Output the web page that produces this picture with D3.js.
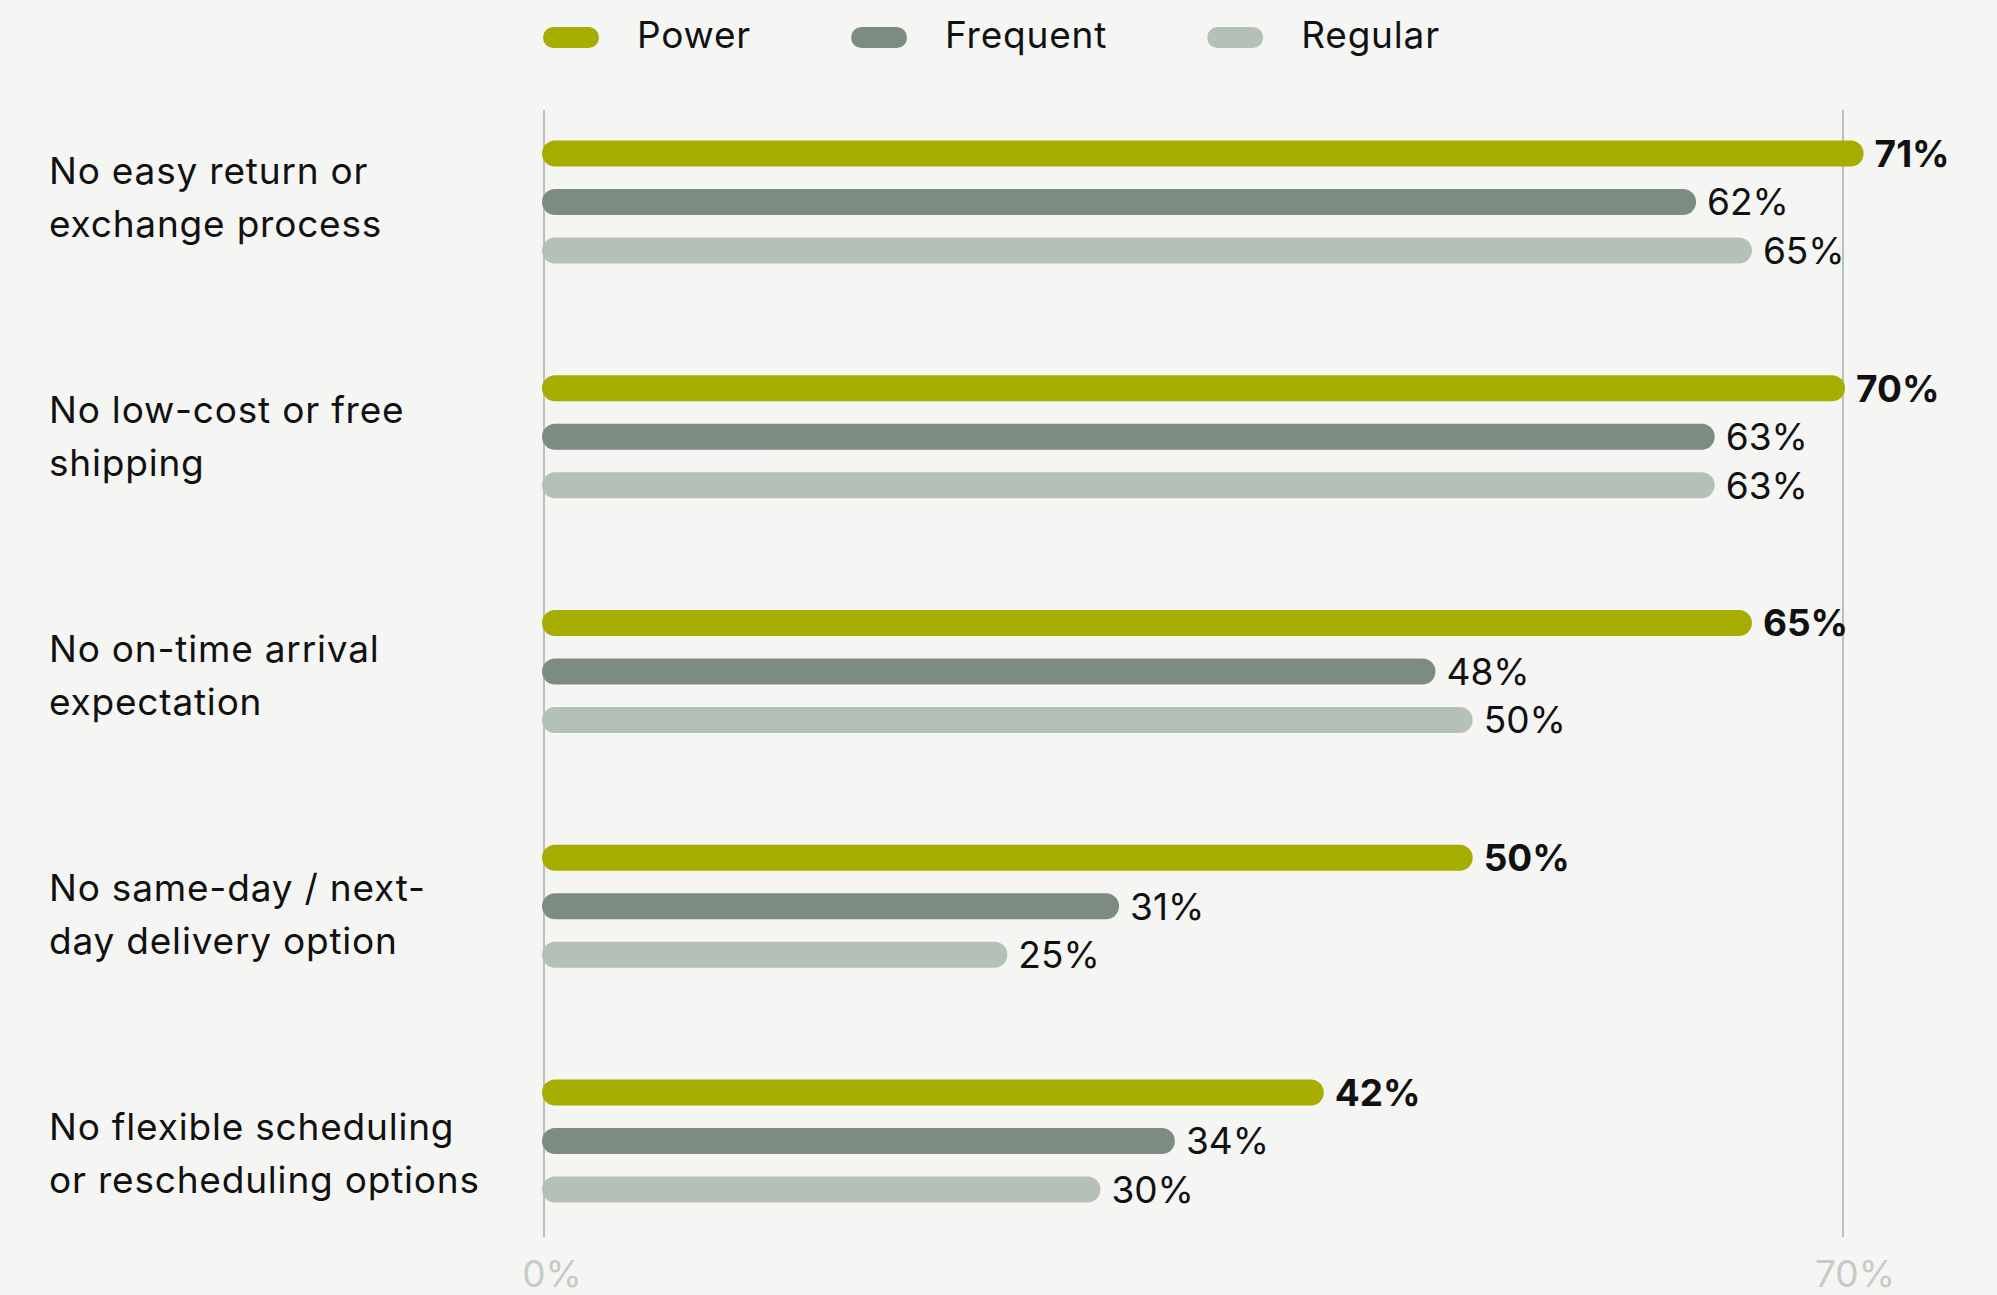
<!DOCTYPE html>
<html>
<head>
<meta charset="utf-8">
<script src="https://cdn.jsdelivr.net/npm/d3@7"></script>
<style>
  html, body { margin: 0; padding: 0; background: #f5f5f3; }
  svg { display: block; }
  text { font-family: Inter, "Noto Sans", sans-serif; }
</style>
</head>
<body>
<script>
// ---- data ----
const categories = [
  "No easy return or exchange process",
  "No low-cost or free shipping",
  "No on-time arrival expectation",
  "No same-day / next-day delivery option",
  "No flexible scheduling or rescheduling options"
];
const categoryLines = [
  ["No easy return or", "exchange process"],
  ["No low-cost or free", "shipping"],
  ["No on-time arrival", "expectation"],
  ["No same-day / next-", "day delivery option"],
  ["No flexible scheduling", "or rescheduling options"]
];
const seriesNames = ["Power", "Frequent", "Regular"];
const power    = [71, 70, 65, 50, 42];
const frequent = [62, 63, 48, 31, 34];
const regular  = [65, 63, 50, 25, 30];
const tickValues = [0, 70];
const tickLabels = ["0%", "70%"];

const seriesValues = { Power: power, Frequent: frequent, Regular: regular };
const colors = { Power: "#a6ad00", Frequent: "#7c8c81", Regular: "#b5c0b7" };

// ---- layout ----
const W = 1997, H = 1295;
const svg = d3.select("body").append("svg").attr("width", W).attr("height", H);
svg.append("rect").attr("width", W).attr("height", H).attr("fill", "#f5f5f3");

const x = d3.scaleLinear().domain([0, 70]).range([542, 1845]);
const yGroup = d3.scaleBand().domain(categories).range([84.6, 1258.4]).padding(0);
const yInner = d3.scalePoint().domain(seriesNames).range([-48.5, 48.5]);
const yLabel = d3.scaleBand().domain(categories).range([80.5, 1275.5]).padding(0);

const barH = 26;

// gridlines
svg.append("g").selectAll("line").data(tickValues).join("line")
  .attr("x1", d => x(d) + (d === 0 ? 2 : -2)).attr("x2", d => x(d) + (d === 0 ? 2 : -2))
  .attr("y1", 110).attr("y2", 1237)
  .attr("stroke", "#b8c2ba").attr("stroke-width", 2);

// tick labels
svg.append("g").selectAll("text").data(tickValues).join("text")
  .attr("x", d => x(d) + 10).attr("y", 1287)
  .attr("text-anchor", "middle")
  .attr("font-size", 37).attr("fill", "#c4ccc5")
  .text((d, i) => tickLabels[i]);

// bars
const rows = [];
categories.forEach((c, i) => {
  seriesNames.forEach(s => rows.push({ cat: c, s, v: seriesValues[s][i] }));
});
const cy = d => yGroup(d.cat) + yGroup.bandwidth() / 2 + yInner(d.s);

svg.append("g").selectAll("rect").data(rows).join("rect")
  .attr("x", x(0))
  .attr("y", d => cy(d) - barH / 2)
  .attr("width", d => x(d.v) - x(0))
  .attr("height", barH)
  .attr("rx", barH / 2).attr("ry", barH / 2)
  .attr("fill", d => colors[d.s]);

// value labels
svg.append("g").selectAll("text").data(rows).join("text")
  .attr("x", d => x(d.v) + 11)
  .attr("y", d => cy(d))
  .attr("dy", "0.36em")
  .attr("font-size", 37)
  .attr("font-weight", d => d.s === "Power" ? 700 : 400)
  .attr("fill", "#111")
  .text(d => d.v + "%");

// category labels
const catG = svg.append("g").selectAll("text").data(categories).join("text")
  .attr("x", 49)
  .attr("font-size", 37)
  .attr("letter-spacing", "0.8px")
  .attr("fill", "#111");
catG.each(function (c, i) {
  const mid = yLabel(c) + yLabel.bandwidth() / 2;
  const t = d3.select(this);
  categoryLines[i].forEach((ln, j) => {
    t.append("tspan").attr("x", 49).attr("y", mid - 16.5 + j * 53).text(ln);
  });
});

// legend
const legend = svg.append("g");
let lx = 543;
seriesNames.forEach(s => {
  legend.append("rect")
    .attr("x", lx).attr("y", 27).attr("width", 56).attr("height", 21)
    .attr("rx", 10.5).attr("fill", colors[s]);
  const t = legend.append("text")
    .attr("x", lx + 94).attr("y", 48)
    .attr("font-size", 37).attr("letter-spacing", "0.8px").attr("fill", "#111")
    .text(s);
  const w = t.node().getComputedTextLength();
  lx = lx + 94 + w + 100;
});
</script>
</body>
</html>
